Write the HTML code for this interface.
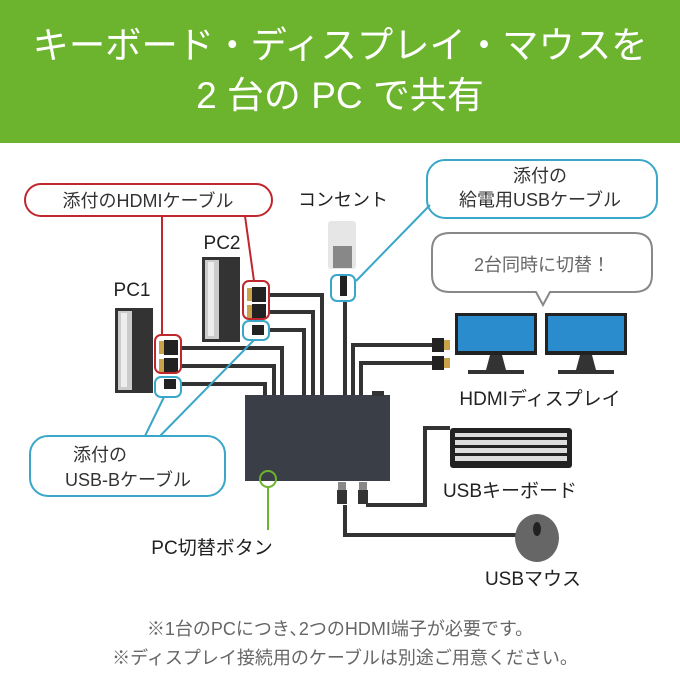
<!DOCTYPE html>
<html><head><meta charset="utf-8"><style>
html,body{margin:0;padding:0;background:#fff}
svg{display:block}
text{font-family:"Liberation Sans","Noto Sans CJK JP",sans-serif}
</style></head><body>
<svg width="680" height="680" viewBox="0 0 680 680" xmlns="http://www.w3.org/2000/svg">
<rect x="0" y="0" width="680" height="143" fill="#6cb42e"/>
<text x="340" y="58" font-size="37" fill="#fff" text-anchor="middle" textLength="615" lengthAdjust="spacingAndGlyphs">キーボード・ディスプレイ・マウスを</text>
<text x="340" y="108" font-size="37" fill="#fff" text-anchor="middle">2 台の PC で共有</text>

<!-- cables -->
<g fill="none" stroke="#333" stroke-width="4">
<path d="M268 295 H322 V398"/><path d="M268 312 H313 V398"/><path d="M268 330 H304 V398"/>
<path d="M180 348 H282 V398"/><path d="M180 366 H274 V398"/><path d="M180 384 H265 V398"/>
<path d="M345 300 V398"/>
<path d="M353 398 V345 H436"/><path d="M361 398 V363 H436"/>
<path d="M366 505 H425 V428 H450"/>
<path d="M345 505 V535 H520"/>
</g>
<!-- hub -->
<rect x="245" y="395" width="145" height="86" fill="#3a3f47"/>
<rect x="372" y="391" width="12" height="5" fill="#333"/>
<!-- hdmi connectors to display -->
<rect x="432" y="338" width="12" height="14" fill="#222"/><rect x="444" y="340" width="6" height="10" fill="#c9a24a"/>
<rect x="432" y="356" width="12" height="14" fill="#222"/><rect x="444" y="358" width="6" height="10" fill="#c9a24a"/>
<!-- usb plugs -->
<rect x="338" y="482" width="8" height="8" fill="#888"/><rect x="337" y="490" width="10" height="14" fill="#333"/>
<rect x="359" y="482" width="8" height="8" fill="#888"/><rect x="358" y="490" width="10" height="14" fill="#333"/>

<!-- PCs -->
<rect x="202" y="257" width="38" height="85" fill="#333"/><rect x="205" y="260" width="14" height="79" fill="#ccc"/><rect x="208" y="262" width="6" height="74" fill="#eee"/>
<rect x="115" y="308" width="38" height="85" fill="#333"/><rect x="118" y="311" width="14" height="79" fill="#ccc"/><rect x="121" y="313" width="6" height="74" fill="#eee"/>
<g fill="#c9a24a"><rect x="247" y="288" width="6" height="13"/><rect x="247" y="305" width="6" height="13"/><rect x="159" y="341" width="6" height="13"/><rect x="159" y="359" width="6" height="13"/></g>
<g fill="#222"><rect x="252" y="287" width="14" height="15"/><rect x="252" y="304" width="14" height="15"/><rect x="164" y="340" width="14" height="15"/><rect x="164" y="358" width="14" height="15"/><rect x="252" y="325" width="12" height="10"/><rect x="164" y="379" width="12" height="10"/></g>
<text x="222" y="249" font-size="19" fill="#222" text-anchor="middle">PC2</text>
<text x="132" y="296" font-size="19" fill="#222" text-anchor="middle">PC1</text>

<!-- outlet -->
<rect x="328" y="221" width="28" height="48" rx="3" fill="#e6e6e6"/>
<rect x="333" y="246" width="19" height="22" fill="#888"/>
<rect x="340" y="276" width="7" height="20" fill="#222"/>
<text x="343" y="206" font-size="18" fill="#222" text-anchor="middle">コンセント</text>

<!-- monitors -->
<g>
<rect x="455" y="313" width="82" height="42" fill="#222"/><rect x="458" y="316" width="76" height="35" fill="#2a8ccc"/>
<path d="M490 355 h12 l4 15 h18 v4 h-56 v-4 h18z" fill="#333"/>
<rect x="545" y="313" width="82" height="42" fill="#222"/><rect x="548" y="316" width="76" height="35" fill="#2a8ccc"/>
<path d="M580 355 h12 l4 15 h18 v4 h-56 v-4 h18z" fill="#333"/>
</g>
<text x="540" y="405" font-size="19" fill="#222" text-anchor="middle">HDMIディスプレイ</text>
<!-- bubble -->
<path d="M450 233 H634 Q652 233 652 250 V275 Q652 292 634 292 H550 L543 305 L536 292 H450 Q432 292 432 275 V250 Q432 233 450 233 Z" fill="#fff" stroke="#888" stroke-width="2"/>
<text x="542" y="271" font-size="18" fill="#666" text-anchor="middle">2台同時に切替！</text>

<!-- keyboard -->
<rect x="450" y="428" width="122" height="40" rx="3" fill="#222"/>
<g fill="#ddd">
<rect x="455" y="433" width="112" height="4"/><rect x="455" y="440" width="112" height="5"/><rect x="455" y="448" width="112" height="5"/><rect x="455" y="456" width="112" height="5"/>
</g>
<text x="510" y="497" font-size="19" fill="#222" text-anchor="middle">USBキーボード</text>
<!-- mouse -->
<ellipse cx="537" cy="538" rx="22" ry="24" fill="#666"/><ellipse cx="537" cy="529" rx="4" ry="7" fill="#222"/>
<text x="533" y="585" font-size="19" fill="#222" text-anchor="middle">USBマウス</text>

<!-- red label -->
<g fill="none" stroke="#c0272d" stroke-width="2">
<rect x="25" y="184" width="247" height="32" rx="16" fill="#fff"/>
<path d="M162 216 V335"/><path d="M245 216 L254 281"/>
<rect x="155" y="335" width="26" height="38" rx="6"/><rect x="243" y="281" width="26" height="38" rx="6"/>
</g>
<text x="148" y="207" font-size="18" fill="#333" text-anchor="middle">添付のHDMIケーブル</text>

<!-- blue labels -->
<g fill="none" stroke="#3aa6c8" stroke-width="2">
<rect x="427" y="160" width="230" height="58" rx="18" fill="#fff"/>
<path d="M430 205 L356 281"/><rect x="331" y="275" width="24" height="26" rx="6"/>
<rect x="243" y="321" width="26" height="19" rx="6"/><rect x="155" y="377" width="26" height="20" rx="6"/>
<path d="M145 436 L164 397"/><path d="M160 436 L254 340"/>
<rect x="30" y="436" width="195" height="60" rx="18" fill="#fff"/>
</g>
<text x="540" y="182" font-size="18" fill="#333" text-anchor="middle">添付の</text>
<text x="540" y="206" font-size="18" fill="#333" text-anchor="middle">給電用USBケーブル</text>
<text x="100" y="461" font-size="18" fill="#333" text-anchor="middle">添付の</text>
<text x="128" y="486" font-size="18" fill="#333" text-anchor="middle">USB-Bケーブル</text>

<!-- green -->
<circle cx="268" cy="479" r="8" fill="none" stroke="#6cb42e" stroke-width="2"/>
<path d="M268 487 V530" stroke="#6cb42e" stroke-width="2"/>
<text x="212" y="554" font-size="19" fill="#222" text-anchor="middle">PC切替ボタン</text>

<text x="340" y="635" font-size="18" fill="#666" text-anchor="middle">※1台のPCにつき､2つのHDMI端子が必要です。</text>
<text x="345" y="664" font-size="18" fill="#666" text-anchor="middle">※ディスプレイ接続用のケーブルは別途ご用意ください。</text>
</svg>
</body></html>
